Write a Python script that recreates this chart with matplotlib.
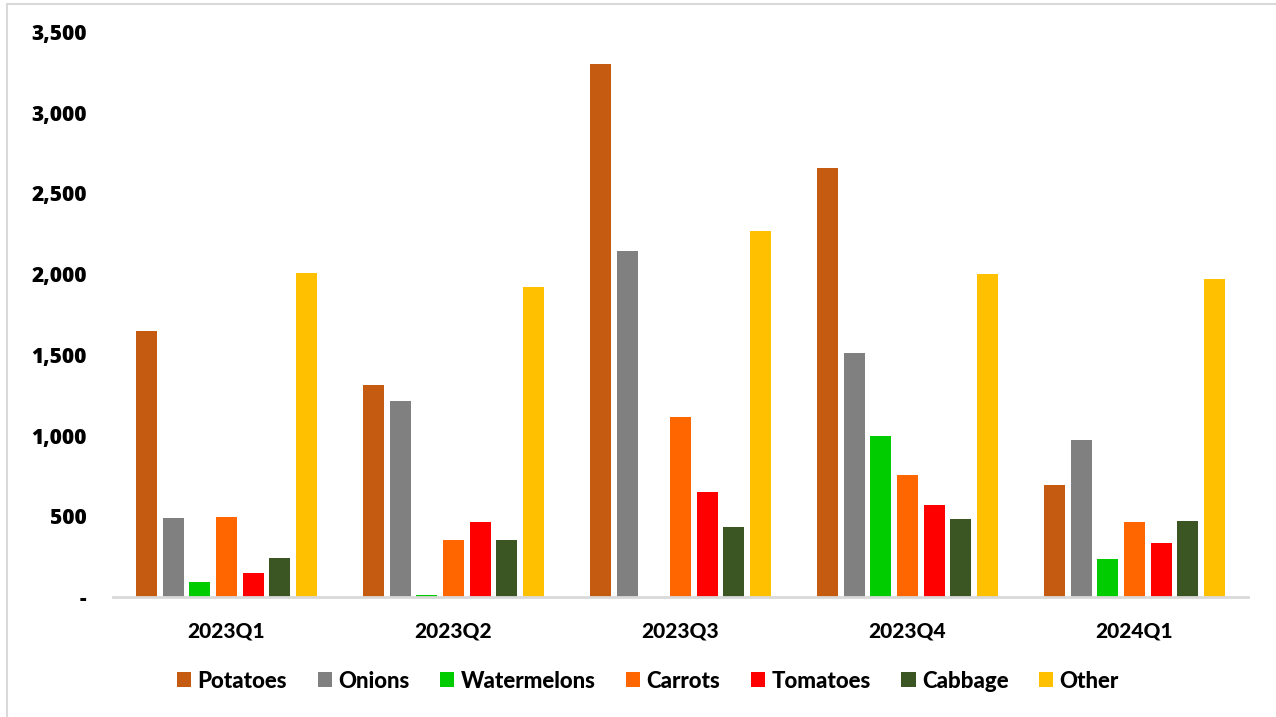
import matplotlib.pyplot as plt
from matplotlib.lines import Line2D
from matplotlib.ticker import FuncFormatter
import numpy as np

quarters = ['2023Q1', '2023Q2', '2023Q3', '2023Q4', '2024Q1']
crops = ['Potatoes', 'Onions', 'Watermelons', 'Carrots', 'Tomatoes', 'Cabbage', 'Other']
potatoes = [1649, 1316, 3304, 2659, 691]
onions = [488, 1213, 2145, 1512, 973]
watermelons = [96, 12, 0, 998, 233]
carrots = [498, 353, 1115, 755, 466]
tomatoes = [150, 466, 652, 571, 336]
cabbage = [240, 355, 434, 483, 468]
other = [2010, 1922, 2265, 1998, 1971]
series = [potatoes, onions, watermelons, carrots, tomatoes, cabbage, other]
colors = ['#C55A11', '#808080', '#00CC00', '#FF6600', '#FF0000', '#3B5523', '#FFC000']

fig = plt.figure(figsize=(12.76, 7.17), dpi=100)
ax = fig.add_axes([113 / 1276, 120 / 717, 1135 / 1276, 565 / 717])

x = np.arange(len(quarters))
slot = 1 / 8.5
width = 0.0925
for i, (name, vals, c) in enumerate(zip(crops, series, colors)):
    ax.bar(x + (i - 3) * slot, vals, width, color=c, label=name, edgecolor='none')

ax.set_xlim(-0.5, 4.5)
ax.set_ylim(0, 3500)
ax.set_yticks(np.arange(0, 3501, 500))
ax.yaxis.set_major_formatter(FuncFormatter(lambda v, p: '-' if v == 0 else f'{int(v):,}'))
ax.set_xticks(x)
ax.set_xticklabels(quarters, fontsize=15, fontweight='black', family='Lato')
for lbl in ax.get_yticklabels():
    lbl.set_fontsize(15)
    lbl.set_fontweight('heavy')
    lbl.set_family('Open Sans')
ax.tick_params(axis='y', length=0, pad=19)
ax.tick_params(axis='x', length=0, pad=18)
for s in ['top', 'right', 'left']:
    ax.spines[s].set_visible(False)
ax.spines['bottom'].set_color('#D9D9D9')
ax.spines['bottom'].set_linewidth(2)

leg = fig.legend(loc='center', bbox_to_anchor=(648 / 1276, 1 - 681 / 717), ncol=7,
                 frameon=False, prop={'family': 'Lato', 'weight': 'black', 'size': 16},
                 handlelength=0.64, handleheight=0.64, handletextpad=0.28, columnspacing=1.38)

# thin frame lines along the left and top edges
fig.add_artist(Line2D([7 / 1276, 7 / 1276], [0, 1 - 4 / 717], color='#D9D9D9', lw=1.5))
fig.add_artist(Line2D([7 / 1276, 1], [1 - 4 / 717, 1 - 4 / 717], color='#D9D9D9', lw=1.5))

fig.savefig('out.png', dpi=100)
